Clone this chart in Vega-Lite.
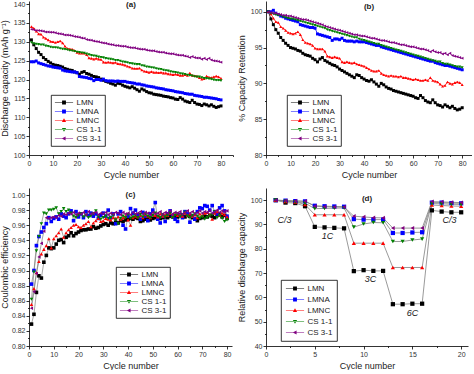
{
"$schema":"https://vega.github.io/schema/vega-lite/v6.json",
"padding":{"left":0,"top":0,"right":0,"bottom":0},
"config":{
"font":"Liberation Sans",
"view":{"stroke":null},
"axis":{"grid":false,"domainColor":"#000","domainWidth":0.8,"tickColor":"#000","tickWidth":0.8,"tickSize":3,"labelFontSize":7,"labelColor":"#333","labelPadding":1,"labelOverlap":false,"titleFontSize":9,"titleFontWeight":"normal","titleColor":"#222","labelFont":"Liberation Sans","titleFont":"Liberation Sans"},
"axisY":{"minExtent":17,"maxExtent":17,"titlePadding":3},
"axisX":{"titlePadding":4,"labelFlush":false},
"legend":{"orient":"none","strokeColor":"#000","strokeWidth":0.8,"fillColor":"#fff","padding":3,"symbolSize":49,"symbolOffset":5.5,"labelOffset":8,"rowPadding":0,"labelFontSize":8,"labelColor":"#222","labelFont":"Liberation Sans"},
"title":{"fontSize":8,"fontWeight":"bold","anchor":"middle","frame":"group","color":"#222","font":"Liberation Sans"}
},
"datasets":{
"a":[
{"x":1,"LMN":130.5,"LMNA":124.7,"LMNC":134.0,"CS 1-1":129.8,"CS 3-1":133.3},
{"x":2,"LMN":129.2,"LMNA":124.7,"LMNC":133.6,"CS 1-1":129.5,"CS 3-1":133.2},
{"x":3,"LMN":128.2,"LMNA":124.9,"LMNC":132.8,"CS 1-1":129.4,"CS 3-1":133.0},
{"x":4,"LMN":127.2,"LMNA":124.4,"LMNC":132.1,"CS 1-1":129.3,"CS 3-1":133.0},
{"x":5,"LMN":126.6,"LMNA":124.2,"LMNC":132.0,"CS 1-1":129.2,"CS 3-1":132.9},
{"x":6,"LMN":125.8,"LMNA":124.0,"LMNC":131.2,"CS 1-1":129.2,"CS 3-1":132.8},
{"x":7,"LMN":125.3,"LMNA":123.8,"LMNC":130.9,"CS 1-1":128.9,"CS 3-1":132.6},
{"x":8,"LMN":124.8,"LMNA":123.6,"LMNC":130.5,"CS 1-1":128.8,"CS 3-1":132.6},
{"x":9,"LMN":124.4,"LMNA":123.5,"LMNC":130.1,"CS 1-1":128.6,"CS 3-1":132.5},
{"x":10,"LMN":124.0,"LMNA":123.3,"LMNC":130.0,"CS 1-1":128.5,"CS 3-1":132.5},
{"x":11,"LMN":123.8,"LMNA":123.2,"LMNC":129.8,"CS 1-1":128.5,"CS 3-1":132.4},
{"x":12,"LMN":123.7,"LMNA":123.1,"LMNC":130.0,"CS 1-1":128.4,"CS 3-1":132.2},
{"x":13,"LMN":123.5,"LMNA":123.0,"LMNC":130.2,"CS 1-1":128.2,"CS 3-1":132.1},
{"x":14,"LMN":123.3,"LMNA":122.5,"LMNC":129.7,"CS 1-1":128.1,"CS 3-1":132.0},
{"x":15,"LMN":122.9,"LMNA":122.3,"LMNC":128.8,"CS 1-1":128.0,"CS 3-1":131.8},
{"x":16,"LMN":122.7,"LMNA":122.2,"LMNC":128.2,"CS 1-1":127.9,"CS 3-1":131.8},
{"x":17,"LMN":122.5,"LMNA":122.1,"LMNC":128.1,"CS 1-1":127.7,"CS 3-1":131.7},
{"x":18,"LMN":122.4,"LMNA":122.0,"LMNC":128.0,"CS 1-1":127.6,"CS 3-1":131.6},
{"x":19,"LMN":122.0,"LMNA":122.0,"LMNC":127.7,"CS 1-1":127.5,"CS 3-1":131.4},
{"x":20,"LMN":121.8,"LMNA":121.8,"LMNC":127.2,"CS 1-1":127.3,"CS 3-1":131.3},
{"x":21,"LMN":121.4,"LMNA":120.8,"LMNC":127.0,"CS 1-1":127.2,"CS 3-1":131.2},
{"x":22,"LMN":121.9,"LMNA":120.7,"LMNC":127.0,"CS 1-1":127.1,"CS 3-1":131.0},
{"x":23,"LMN":122.1,"LMNA":120.6,"LMNC":127.0,"CS 1-1":127.0,"CS 3-1":130.9},
{"x":24,"LMN":121.6,"LMNA":120.5,"LMNC":126.6,"CS 1-1":126.8,"CS 3-1":130.6},
{"x":25,"LMN":121.4,"LMNA":120.3,"LMNC":125.7,"CS 1-1":126.6,"CS 3-1":130.5},
{"x":26,"LMN":121.1,"LMNA":120.2,"LMNC":125.6,"CS 1-1":126.4,"CS 3-1":130.4},
{"x":27,"LMN":120.8,"LMNA":119.7,"LMNC":125.4,"CS 1-1":126.3,"CS 3-1":130.2},
{"x":28,"LMN":120.7,"LMNA":120.0,"LMNC":125.6,"CS 1-1":126.2,"CS 3-1":130.1},
{"x":29,"LMN":120.5,"LMNA":120.0,"LMNC":125.4,"CS 1-1":126.0,"CS 3-1":130.0},
{"x":30,"LMN":120.1,"LMNA":119.8,"LMNC":125.3,"CS 1-1":125.9,"CS 3-1":129.8},
{"x":31,"LMN":119.8,"LMNA":120.1,"LMNC":124.6,"CS 1-1":125.8,"CS 3-1":129.7},
{"x":32,"LMN":119.5,"LMNA":119.7,"LMNC":124.5,"CS 1-1":125.6,"CS 3-1":129.6},
{"x":33,"LMN":119.3,"LMNA":119.6,"LMNC":124.6,"CS 1-1":125.5,"CS 3-1":129.4},
{"x":34,"LMN":119.0,"LMNA":119.6,"LMNC":124.5,"CS 1-1":125.4,"CS 3-1":129.3},
{"x":35,"LMN":118.8,"LMNA":119.6,"LMNC":124.4,"CS 1-1":125.3,"CS 3-1":129.2},
{"x":36,"LMN":118.5,"LMNA":119.5,"LMNC":124.5,"CS 1-1":125.1,"CS 3-1":129.0},
{"x":37,"LMN":119.0,"LMNA":119.6,"LMNC":124.2,"CS 1-1":125.1,"CS 3-1":129.0},
{"x":38,"LMN":118.9,"LMNA":119.5,"LMNC":124.1,"CS 1-1":124.9,"CS 3-1":128.9},
{"x":39,"LMN":118.5,"LMNA":119.5,"LMNC":124.0,"CS 1-1":124.7,"CS 3-1":128.8},
{"x":40,"LMN":118.2,"LMNA":119.5,"LMNC":123.8,"CS 1-1":124.6,"CS 3-1":128.8},
{"x":41,"LMN":118.0,"LMNA":119.3,"LMNC":123.5,"CS 1-1":124.5,"CS 3-1":128.6},
{"x":42,"LMN":117.8,"LMNA":119.2,"LMNC":123.3,"CS 1-1":124.3,"CS 3-1":128.5},
{"x":43,"LMN":118.1,"LMNA":119.1,"LMNC":123.0,"CS 1-1":124.2,"CS 3-1":128.4},
{"x":44,"LMN":117.7,"LMNA":119.0,"LMNC":122.9,"CS 1-1":124.1,"CS 3-1":128.4},
{"x":45,"LMN":117.3,"LMNA":118.8,"LMNC":122.9,"CS 1-1":124.0,"CS 3-1":128.2},
{"x":46,"LMN":116.9,"LMNA":118.8,"LMNC":123.0,"CS 1-1":124.0,"CS 3-1":128.1},
{"x":47,"LMN":117.5,"LMNA":118.6,"LMNC":122.5,"CS 1-1":123.7,"CS 3-1":128.0},
{"x":48,"LMN":117.2,"LMNA":118.5,"LMNC":122.2,"CS 1-1":123.6,"CS 3-1":128.0},
{"x":49,"LMN":116.8,"LMNA":118.3,"LMNC":122.1,"CS 1-1":123.4,"CS 3-1":127.8},
{"x":50,"LMN":116.5,"LMNA":118.2,"LMNC":121.9,"CS 1-1":123.3,"CS 3-1":127.7},
{"x":51,"LMN":116.4,"LMNA":118.1,"LMNC":122.1,"CS 1-1":123.2,"CS 3-1":127.6},
{"x":52,"LMN":116.1,"LMNA":118.0,"LMNC":121.9,"CS 1-1":123.1,"CS 3-1":127.6},
{"x":53,"LMN":116.0,"LMNA":117.8,"LMNC":121.9,"CS 1-1":122.9,"CS 3-1":127.4},
{"x":54,"LMN":115.9,"LMNA":117.7,"LMNC":121.8,"CS 1-1":122.8,"CS 3-1":127.3},
{"x":55,"LMN":115.8,"LMNA":117.6,"LMNC":121.9,"CS 1-1":122.7,"CS 3-1":127.2},
{"x":56,"LMN":115.6,"LMNA":117.5,"LMNC":121.7,"CS 1-1":122.5,"CS 3-1":127.2},
{"x":57,"LMN":115.5,"LMNA":117.3,"LMNC":121.7,"CS 1-1":122.4,"CS 3-1":127.0},
{"x":58,"LMN":115.4,"LMNA":117.2,"LMNC":121.5,"CS 1-1":122.3,"CS 3-1":126.9},
{"x":59,"LMN":115.2,"LMNA":117.1,"LMNC":121.4,"CS 1-1":122.1,"CS 3-1":126.8},
{"x":60,"LMN":115.1,"LMNA":117.0,"LMNC":121.3,"CS 1-1":122.0,"CS 3-1":126.8},
{"x":61,"LMN":114.8,"LMNA":116.8,"LMNC":121.4,"CS 1-1":121.9,"CS 3-1":126.6},
{"x":62,"LMN":114.7,"LMNA":116.7,"LMNC":121.3,"CS 1-1":121.8,"CS 3-1":126.5},
{"x":63,"LMN":115.2,"LMNA":116.6,"LMNC":121.1,"CS 1-1":121.6,"CS 3-1":126.4},
{"x":64,"LMN":114.8,"LMNA":116.5,"LMNC":121.1,"CS 1-1":121.5,"CS 3-1":126.4},
{"x":65,"LMN":114.3,"LMNA":116.3,"LMNC":121.3,"CS 1-1":121.4,"CS 3-1":126.2},
{"x":66,"LMN":114.1,"LMNA":116.2,"LMNC":121.1,"CS 1-1":121.2,"CS 3-1":126.1},
{"x":67,"LMN":113.9,"LMNA":116.1,"LMNC":121.7,"CS 1-1":121.1,"CS 3-1":125.8},
{"x":68,"LMN":114.5,"LMNA":116.1,"LMNC":121.1,"CS 1-1":121.0,"CS 3-1":126.1},
{"x":69,"LMN":113.9,"LMNA":115.8,"LMNC":121.0,"CS 1-1":120.8,"CS 3-1":125.8},
{"x":70,"LMN":113.5,"LMNA":115.7,"LMNC":120.9,"CS 1-1":120.7,"CS 3-1":125.7},
{"x":71,"LMN":113.4,"LMNA":115.6,"LMNC":120.5,"CS 1-1":120.7,"CS 3-1":125.7},
{"x":72,"LMN":113.1,"LMNA":115.5,"LMNC":120.1,"CS 1-1":120.5,"CS 3-1":125.4},
{"x":73,"LMN":113.5,"LMNA":115.3,"LMNC":120.2,"CS 1-1":120.3,"CS 3-1":125.6},
{"x":74,"LMN":113.3,"LMNA":115.3,"LMNC":120.9,"CS 1-1":120.3,"CS 3-1":125.3},
{"x":75,"LMN":113.0,"LMNA":115.2,"LMNC":120.6,"CS 1-1":120.2,"CS 3-1":125.6},
{"x":76,"LMN":113.3,"LMNA":115.1,"LMNC":120.5,"CS 1-1":120.1,"CS 3-1":125.2},
{"x":77,"LMN":112.9,"LMNA":115.0,"LMNC":120.7,"CS 1-1":119.9,"CS 3-1":125.0},
{"x":78,"LMN":112.6,"LMNA":114.9,"LMNC":120.9,"CS 1-1":119.8,"CS 3-1":124.9},
{"x":79,"LMN":112.8,"LMNA":114.7,"LMNC":120.7,"CS 1-1":119.8,"CS 3-1":124.8},
{"x":80,"LMN":113.0,"LMNA":114.6,"LMNC":120.3,"CS 1-1":119.7,"CS 3-1":124.6}
],
"b":[
{"x":1,"LMN":100,"LMNA":100,"LMNC":100,"CS 1-1":100,"CS 3-1":100},
{"x":2,"LMN":99.0,"LMNA":100.0,"LMNC":99.7,"CS 1-1":99.8,"CS 3-1":99.9},
{"x":3,"LMN":98.2,"LMNA":100.2,"LMNC":99.1,"CS 1-1":99.7,"CS 3-1":99.8},
{"x":4,"LMN":97.5,"LMNA":99.8,"LMNC":98.6,"CS 1-1":99.6,"CS 3-1":99.8},
{"x":5,"LMN":97.0,"LMNA":99.6,"LMNC":98.5,"CS 1-1":99.5,"CS 3-1":99.7},
{"x":6,"LMN":96.4,"LMNA":99.4,"LMNC":97.9,"CS 1-1":99.5,"CS 3-1":99.6},
{"x":7,"LMN":96.0,"LMNA":99.3,"LMNC":97.7,"CS 1-1":99.3,"CS 3-1":99.5},
{"x":8,"LMN":95.6,"LMNA":99.1,"LMNC":97.4,"CS 1-1":99.2,"CS 3-1":99.5},
{"x":9,"LMN":95.3,"LMNA":99.0,"LMNC":97.1,"CS 1-1":99.1,"CS 3-1":99.4},
{"x":10,"LMN":95.0,"LMNA":98.9,"LMNC":97.0,"CS 1-1":99.0,"CS 3-1":99.4},
{"x":11,"LMN":94.9,"LMNA":98.8,"LMNC":96.9,"CS 1-1":99.0,"CS 3-1":99.3},
{"x":12,"LMN":94.8,"LMNA":98.7,"LMNC":97.0,"CS 1-1":98.9,"CS 3-1":99.2},
{"x":13,"LMN":94.6,"LMNA":98.6,"LMNC":97.2,"CS 1-1":98.8,"CS 3-1":99.1},
{"x":14,"LMN":94.5,"LMNA":98.2,"LMNC":96.8,"CS 1-1":98.7,"CS 3-1":99.0},
{"x":15,"LMN":94.2,"LMNA":98.1,"LMNC":96.1,"CS 1-1":98.6,"CS 3-1":98.9},
{"x":16,"LMN":94.0,"LMNA":98.0,"LMNC":95.7,"CS 1-1":98.5,"CS 3-1":98.9},
{"x":17,"LMN":93.9,"LMNA":97.9,"LMNC":95.6,"CS 1-1":98.4,"CS 3-1":98.8},
{"x":18,"LMN":93.8,"LMNA":97.8,"LMNC":95.5,"CS 1-1":98.3,"CS 3-1":98.7},
{"x":19,"LMN":93.5,"LMNA":97.8,"LMNC":95.3,"CS 1-1":98.2,"CS 3-1":98.6},
{"x":20,"LMN":93.3,"LMNA":97.7,"LMNC":94.9,"CS 1-1":98.1,"CS 3-1":98.5},
{"x":21,"LMN":93.0,"LMNA":96.9,"LMNC":94.8,"CS 1-1":98.0,"CS 3-1":98.4},
{"x":22,"LMN":93.4,"LMNA":96.8,"LMNC":94.8,"CS 1-1":97.9,"CS 3-1":98.3},
{"x":23,"LMN":93.6,"LMNA":96.7,"LMNC":94.8,"CS 1-1":97.8,"CS 3-1":98.2},
{"x":24,"LMN":93.2,"LMNA":96.6,"LMNC":94.5,"CS 1-1":97.7,"CS 3-1":98.0},
{"x":25,"LMN":93.0,"LMNA":96.5,"LMNC":93.8,"CS 1-1":97.5,"CS 3-1":97.9},
{"x":26,"LMN":92.8,"LMNA":96.4,"LMNC":93.7,"CS 1-1":97.4,"CS 3-1":97.8},
{"x":27,"LMN":92.6,"LMNA":96.0,"LMNC":93.6,"CS 1-1":97.3,"CS 3-1":97.7},
{"x":28,"LMN":92.5,"LMNA":96.2,"LMNC":93.7,"CS 1-1":97.2,"CS 3-1":97.6},
{"x":29,"LMN":92.3,"LMNA":96.2,"LMNC":93.6,"CS 1-1":97.1,"CS 3-1":97.5},
{"x":30,"LMN":92.0,"LMNA":96.1,"LMNC":93.5,"CS 1-1":97.0,"CS 3-1":97.4},
{"x":31,"LMN":91.8,"LMNA":96.3,"LMNC":93.0,"CS 1-1":96.9,"CS 3-1":97.3},
{"x":32,"LMN":91.6,"LMNA":96.0,"LMNC":92.9,"CS 1-1":96.8,"CS 3-1":97.2},
{"x":33,"LMN":91.4,"LMNA":95.9,"LMNC":93.0,"CS 1-1":96.7,"CS 3-1":97.1},
{"x":34,"LMN":91.2,"LMNA":95.9,"LMNC":92.9,"CS 1-1":96.6,"CS 3-1":97.0},
{"x":35,"LMN":91.0,"LMNA":95.9,"LMNC":92.8,"CS 1-1":96.5,"CS 3-1":96.9},
{"x":36,"LMN":90.8,"LMNA":95.8,"LMNC":92.9,"CS 1-1":96.4,"CS 3-1":96.8},
{"x":37,"LMN":91.2,"LMNA":95.9,"LMNC":92.7,"CS 1-1":96.4,"CS 3-1":96.8},
{"x":38,"LMN":91.1,"LMNA":95.8,"LMNC":92.6,"CS 1-1":96.2,"CS 3-1":96.7},
{"x":39,"LMN":90.8,"LMNA":95.8,"LMNC":92.5,"CS 1-1":96.1,"CS 3-1":96.6},
{"x":40,"LMN":90.6,"LMNA":95.8,"LMNC":92.4,"CS 1-1":96.0,"CS 3-1":96.6},
{"x":41,"LMN":90.4,"LMNA":95.7,"LMNC":92.2,"CS 1-1":95.9,"CS 3-1":96.5},
{"x":42,"LMN":90.3,"LMNA":95.6,"LMNC":92.0,"CS 1-1":95.8,"CS 3-1":96.4},
{"x":43,"LMN":90.5,"LMNA":95.5,"LMNC":91.8,"CS 1-1":95.7,"CS 3-1":96.3},
{"x":44,"LMN":90.2,"LMNA":95.4,"LMNC":91.7,"CS 1-1":95.6,"CS 3-1":96.3},
{"x":45,"LMN":89.9,"LMNA":95.3,"LMNC":91.7,"CS 1-1":95.5,"CS 3-1":96.2},
{"x":46,"LMN":89.6,"LMNA":95.3,"LMNC":91.8,"CS 1-1":95.5,"CS 3-1":96.1},
{"x":47,"LMN":90.0,"LMNA":95.1,"LMNC":91.4,"CS 1-1":95.3,"CS 3-1":96.0},
{"x":48,"LMN":89.8,"LMNA":95.0,"LMNC":91.2,"CS 1-1":95.2,"CS 3-1":96.0},
{"x":49,"LMN":89.5,"LMNA":94.9,"LMNC":91.1,"CS 1-1":95.1,"CS 3-1":95.9},
{"x":50,"LMN":89.3,"LMNA":94.8,"LMNC":91.0,"CS 1-1":95.0,"CS 3-1":95.8},
{"x":51,"LMN":89.2,"LMNA":94.7,"LMNC":91.1,"CS 1-1":94.9,"CS 3-1":95.7},
{"x":52,"LMN":89.0,"LMNA":94.6,"LMNC":91.0,"CS 1-1":94.8,"CS 3-1":95.7},
{"x":53,"LMN":88.9,"LMNA":94.5,"LMNC":91.0,"CS 1-1":94.7,"CS 3-1":95.6},
{"x":54,"LMN":88.8,"LMNA":94.4,"LMNC":90.9,"CS 1-1":94.6,"CS 3-1":95.5},
{"x":55,"LMN":88.7,"LMNA":94.3,"LMNC":91.0,"CS 1-1":94.5,"CS 3-1":95.4},
{"x":56,"LMN":88.6,"LMNA":94.2,"LMNC":90.8,"CS 1-1":94.4,"CS 3-1":95.4},
{"x":57,"LMN":88.5,"LMNA":94.1,"LMNC":90.8,"CS 1-1":94.3,"CS 3-1":95.3},
{"x":58,"LMN":88.4,"LMNA":94.0,"LMNC":90.7,"CS 1-1":94.2,"CS 3-1":95.2},
{"x":59,"LMN":88.3,"LMNA":93.9,"LMNC":90.6,"CS 1-1":94.1,"CS 3-1":95.1},
{"x":60,"LMN":88.2,"LMNA":93.8,"LMNC":90.5,"CS 1-1":94.0,"CS 3-1":95.1},
{"x":61,"LMN":88.0,"LMNA":93.7,"LMNC":90.6,"CS 1-1":93.9,"CS 3-1":95.0},
{"x":62,"LMN":87.9,"LMNA":93.6,"LMNC":90.5,"CS 1-1":93.8,"CS 3-1":94.9},
{"x":63,"LMN":88.3,"LMNA":93.5,"LMNC":90.4,"CS 1-1":93.7,"CS 3-1":94.8},
{"x":64,"LMN":88.0,"LMNA":93.4,"LMNC":90.4,"CS 1-1":93.6,"CS 3-1":94.8},
{"x":65,"LMN":87.6,"LMNA":93.3,"LMNC":90.5,"CS 1-1":93.5,"CS 3-1":94.7},
{"x":66,"LMN":87.4,"LMNA":93.2,"LMNC":90.4,"CS 1-1":93.4,"CS 3-1":94.6},
{"x":67,"LMN":87.3,"LMNA":93.1,"LMNC":90.8,"CS 1-1":93.3,"CS 3-1":94.4},
{"x":68,"LMN":87.7,"LMNA":93.1,"LMNC":90.4,"CS 1-1":93.2,"CS 3-1":94.6},
{"x":69,"LMN":87.3,"LMNA":92.9,"LMNC":90.3,"CS 1-1":93.1,"CS 3-1":94.4},
{"x":70,"LMN":87.0,"LMNA":92.8,"LMNC":90.2,"CS 1-1":93.0,"CS 3-1":94.3},
{"x":71,"LMN":86.9,"LMNA":92.7,"LMNC":89.9,"CS 1-1":93.0,"CS 3-1":94.3},
{"x":72,"LMN":86.7,"LMNA":92.6,"LMNC":89.6,"CS 1-1":92.8,"CS 3-1":94.1},
{"x":73,"LMN":87.0,"LMNA":92.5,"LMNC":89.7,"CS 1-1":92.7,"CS 3-1":94.2},
{"x":74,"LMN":86.8,"LMNA":92.5,"LMNC":90.2,"CS 1-1":92.7,"CS 3-1":94.0},
{"x":75,"LMN":86.6,"LMNA":92.4,"LMNC":90.0,"CS 1-1":92.6,"CS 3-1":94.2},
{"x":76,"LMN":86.8,"LMNA":92.3,"LMNC":89.9,"CS 1-1":92.5,"CS 3-1":93.9},
{"x":77,"LMN":86.5,"LMNA":92.2,"LMNC":90.1,"CS 1-1":92.4,"CS 3-1":93.8},
{"x":78,"LMN":86.3,"LMNA":92.1,"LMNC":90.2,"CS 1-1":92.3,"CS 3-1":93.7},
{"x":79,"LMN":86.4,"LMNA":92.0,"LMNC":90.1,"CS 1-1":92.3,"CS 3-1":93.6},
{"x":80,"LMN":86.6,"LMNA":91.9,"LMNC":89.8,"CS 1-1":92.2,"CS 3-1":93.5}
],
"c":[
{"x":1,"LMN":0.829,"LMNA":0.882,"LMNC":0.855,"CS 1-1":0.862,"CS 3-1":0.850},
{"x":2,"LMN":0.842,"LMNA":0.900,"LMNC":0.876,"CS 1-1":0.898,"CS 3-1":0.872},
{"x":3,"LMN":0.871,"LMNA":0.933,"LMNC":0.897,"CS 1-1":0.926,"CS 3-1":0.896},
{"x":4,"LMN":0.893,"LMNA":0.945,"LMNC":0.912,"CS 1-1":0.945,"CS 3-1":0.918},
{"x":5,"LMN":0.890,"LMNA":0.951,"LMNC":0.922,"CS 1-1":0.962,"CS 3-1":0.936},
{"x":6,"LMN":0.911,"LMNA":0.957,"LMNC":0.928,"CS 1-1":0.976,"CS 3-1":0.952},
{"x":7,"LMN":0.920,"LMNA":0.962,"LMNC":0.933,"CS 1-1":0.975,"CS 3-1":0.970},
{"x":8,"LMN":0.930,"LMNA":0.970,"LMNC":0.942,"CS 1-1":0.980,"CS 3-1":0.969},
{"x":9,"LMN":0.929,"LMNA":0.965,"LMNC":0.930,"CS 1-1":0.980,"CS 3-1":0.970},
{"x":10,"LMN":0.930,"LMNA":0.969,"LMNC":0.942,"CS 1-1":0.981,"CS 3-1":0.971},
{"x":11,"LMN":0.935,"LMNA":0.971,"LMNC":0.946,"CS 1-1":0.983,"CS 3-1":0.970},
{"x":12,"LMN":0.940,"LMNA":0.968,"LMNC":0.950,"CS 1-1":0.975,"CS 3-1":0.973},
{"x":13,"LMN":0.941,"LMNA":0.975,"LMNC":0.955,"CS 1-1":0.978,"CS 3-1":0.972},
{"x":14,"LMN":0.937,"LMNA":0.972,"LMNC":0.944,"CS 1-1":0.982,"CS 3-1":0.975},
{"x":15,"LMN":0.944,"LMNA":0.970,"LMNC":0.950,"CS 1-1":0.978,"CS 3-1":0.974},
{"x":16,"LMN":0.946,"LMNA":0.975,"LMNC":0.954,"CS 1-1":0.980,"CS 3-1":0.976},
{"x":17,"LMN":0.950,"LMNA":0.979,"LMNC":0.957,"CS 1-1":0.976,"CS 3-1":0.975},
{"x":18,"LMN":0.946,"LMNA":0.966,"LMNC":0.960,"CS 1-1":0.972,"CS 3-1":0.977},
{"x":19,"LMN":0.949,"LMNA":0.978,"LMNC":0.961,"CS 1-1":0.970,"CS 3-1":0.974},
{"x":20,"LMN":0.951,"LMNA":0.971,"LMNC":0.958,"CS 1-1":0.973,"CS 3-1":0.976},
{"x":21,"LMN":0.953,"LMNA":0.975,"LMNC":0.957,"CS 1-1":0.975,"CS 3-1":0.975},
{"x":22,"LMN":0.954,"LMNA":0.970,"LMNC":0.960,"CS 1-1":0.971,"CS 3-1":0.977},
{"x":23,"LMN":0.954,"LMNA":0.978,"LMNC":0.962,"CS 1-1":0.973,"CS 3-1":0.974},
{"x":24,"LMN":0.955,"LMNA":0.973,"LMNC":0.965,"CS 1-1":0.970,"CS 3-1":0.978},
{"x":25,"LMN":0.955,"LMNA":0.976,"LMNC":0.958,"CS 1-1":0.972,"CS 3-1":0.975},
{"x":26,"LMN":0.958,"LMNA":0.972,"LMNC":0.963,"CS 1-1":0.975,"CS 3-1":0.976},
{"x":27,"LMN":0.956,"LMNA":0.975,"LMNC":0.966,"CS 1-1":0.979,"CS 3-1":0.977},
{"x":28,"LMN":0.957,"LMNA":0.969,"LMNC":0.969,"CS 1-1":0.971,"CS 3-1":0.974},
{"x":29,"LMN":0.959,"LMNA":0.973,"LMNC":0.965,"CS 1-1":0.968,"CS 3-1":0.976},
{"x":30,"LMN":0.961,"LMNA":0.976,"LMNC":0.966,"CS 1-1":0.970,"CS 3-1":0.975},
{"x":31,"LMN":0.962,"LMNA":0.972,"LMNC":0.969,"CS 1-1":0.972,"CS 3-1":0.977},
{"x":32,"LMN":0.960,"LMNA":0.980,"LMNC":0.968,"CS 1-1":0.969,"CS 3-1":0.974},
{"x":33,"LMN":0.963,"LMNA":0.970,"LMNC":0.967,"CS 1-1":0.970,"CS 3-1":0.976},
{"x":34,"LMN":0.962,"LMNA":0.975,"LMNC":0.970,"CS 1-1":0.973,"CS 3-1":0.975},
{"x":35,"LMN":0.964,"LMNA":0.962,"LMNC":0.969,"CS 1-1":0.967,"CS 3-1":0.977},
{"x":36,"LMN":0.963,"LMNA":0.975,"LMNC":0.971,"CS 1-1":0.962,"CS 3-1":0.976},
{"x":37,"LMN":0.966,"LMNA":0.978,"LMNC":0.968,"CS 1-1":0.969,"CS 3-1":0.974},
{"x":38,"LMN":0.965,"LMNA":0.960,"LMNC":0.970,"CS 1-1":0.972,"CS 3-1":0.977},
{"x":39,"LMN":0.967,"LMNA":0.955,"LMNC":0.972,"CS 1-1":0.970,"CS 3-1":0.975},
{"x":40,"LMN":0.968,"LMNA":0.972,"LMNC":0.967,"CS 1-1":0.974,"CS 3-1":0.976},
{"x":41,"LMN":0.969,"LMNA":0.982,"LMNC":0.960,"CS 1-1":0.969,"CS 3-1":0.974},
{"x":42,"LMN":0.968,"LMNA":0.976,"LMNC":0.970,"CS 1-1":0.971,"CS 3-1":0.977},
{"x":43,"LMN":0.970,"LMNA":0.980,"LMNC":0.972,"CS 1-1":0.973,"CS 3-1":0.975},
{"x":44,"LMN":0.969,"LMNA":0.974,"LMNC":0.971,"CS 1-1":0.970,"CS 3-1":0.976},
{"x":45,"LMN":0.965,"LMNA":0.968,"LMNC":0.973,"CS 1-1":0.974,"CS 3-1":0.978},
{"x":46,"LMN":0.966,"LMNA":0.977,"LMNC":0.970,"CS 1-1":0.971,"CS 3-1":0.975},
{"x":47,"LMN":0.968,"LMNA":0.972,"LMNC":0.974,"CS 1-1":0.975,"CS 3-1":0.977},
{"x":48,"LMN":0.970,"LMNA":0.966,"LMNC":0.972,"CS 1-1":0.972,"CS 3-1":0.976},
{"x":49,"LMN":0.967,"LMNA":0.975,"LMNC":0.970,"CS 1-1":0.970,"CS 3-1":0.974},
{"x":50,"LMN":0.969,"LMNA":0.980,"LMNC":0.974,"CS 1-1":0.973,"CS 3-1":0.977},
{"x":51,"LMN":0.970,"LMNA":0.990,"LMNC":0.973,"CS 1-1":0.976,"CS 3-1":0.975},
{"x":52,"LMN":0.971,"LMNA":0.968,"LMNC":0.971,"CS 1-1":0.972,"CS 3-1":0.976},
{"x":53,"LMN":0.969,"LMNA":0.963,"LMNC":0.975,"CS 1-1":0.970,"CS 3-1":0.978},
{"x":54,"LMN":0.970,"LMNA":0.972,"LMNC":0.972,"CS 1-1":0.974,"CS 3-1":0.975},
{"x":55,"LMN":0.971,"LMNA":0.965,"LMNC":0.974,"CS 1-1":0.971,"CS 3-1":0.977},
{"x":56,"LMN":0.970,"LMNA":0.975,"LMNC":0.973,"CS 1-1":0.973,"CS 3-1":0.976},
{"x":57,"LMN":0.972,"LMNA":0.979,"LMNC":0.976,"CS 1-1":0.976,"CS 3-1":0.979},
{"x":58,"LMN":0.971,"LMNA":0.972,"LMNC":0.972,"CS 1-1":0.970,"CS 3-1":0.975},
{"x":59,"LMN":0.972,"LMNA":0.968,"LMNC":0.975,"CS 1-1":0.973,"CS 3-1":0.977},
{"x":60,"LMN":0.971,"LMNA":0.965,"LMNC":0.973,"CS 1-1":0.975,"CS 3-1":0.976},
{"x":61,"LMN":0.973,"LMNA":0.974,"LMNC":0.974,"CS 1-1":0.971,"CS 3-1":0.978},
{"x":62,"LMN":0.972,"LMNA":0.970,"LMNC":0.972,"CS 1-1":0.974,"CS 3-1":0.975},
{"x":63,"LMN":0.971,"LMNA":0.978,"LMNC":0.976,"CS 1-1":0.977,"CS 3-1":0.977},
{"x":64,"LMN":0.973,"LMNA":0.975,"LMNC":0.973,"CS 1-1":0.972,"CS 3-1":0.979},
{"x":65,"LMN":0.972,"LMNA":0.964,"LMNC":0.975,"CS 1-1":0.970,"CS 3-1":0.976},
{"x":66,"LMN":0.970,"LMNA":0.972,"LMNC":0.972,"CS 1-1":0.973,"CS 3-1":0.978},
{"x":67,"LMN":0.968,"LMNA":0.968,"LMNC":0.974,"CS 1-1":0.975,"CS 3-1":0.975},
{"x":68,"LMN":0.966,"LMNA":0.978,"LMNC":0.970,"CS 1-1":0.972,"CS 3-1":0.977},
{"x":69,"LMN":0.969,"LMNA":0.983,"LMNC":0.975,"CS 1-1":0.969,"CS 3-1":0.979},
{"x":70,"LMN":0.970,"LMNA":0.982,"LMNC":0.973,"CS 1-1":0.971,"CS 3-1":0.976},
{"x":71,"LMN":0.972,"LMNA":0.986,"LMNC":0.976,"CS 1-1":0.968,"CS 3-1":0.978},
{"x":72,"LMN":0.971,"LMNA":0.985,"LMNC":0.977,"CS 1-1":0.970,"CS 3-1":0.977},
{"x":73,"LMN":0.973,"LMNA":0.980,"LMNC":0.974,"CS 1-1":0.972,"CS 3-1":0.979},
{"x":74,"LMN":0.972,"LMNA":0.986,"LMNC":0.968,"CS 1-1":0.974,"CS 3-1":0.976},
{"x":75,"LMN":0.970,"LMNA":0.978,"LMNC":0.976,"CS 1-1":0.978,"CS 3-1":0.978},
{"x":76,"LMN":0.973,"LMNA":0.975,"LMNC":0.978,"CS 1-1":0.970,"CS 3-1":0.980},
{"x":77,"LMN":0.975,"LMNA":0.983,"LMNC":0.973,"CS 1-1":0.973,"CS 3-1":0.977},
{"x":78,"LMN":0.971,"LMNA":0.986,"LMNC":0.976,"CS 1-1":0.969,"CS 3-1":0.979},
{"x":79,"LMN":0.973,"LMNA":0.979,"LMNC":0.974,"CS 1-1":0.965,"CS 3-1":0.978},
{"x":80,"LMN":0.969,"LMNA":0.972,"LMNC":0.971,"CS 1-1":0.967,"CS 3-1":0.979}
],
"d":[
{"x":1,"LMN":100,"LMNA":100,"LMNC":100,"CS 1-1":100,"CS 3-1":100},
{"x":2,"LMN":99.0,"LMNA":99.8,"LMNC":99.5,"CS 1-1":99.5,"CS 3-1":99.8},
{"x":3,"LMN":98.8,"LMNA":99.6,"LMNC":99.3,"CS 1-1":99.3,"CS 3-1":99.7},
{"x":4,"LMN":97.5,"LMNA":99.5,"LMNC":98.2,"CS 1-1":98.8,"CS 3-1":99.6},
{"x":5,"LMN":89.0,"LMNA":97.7,"LMNC":94.0,"CS 1-1":96.5,"CS 3-1":97.5},
{"x":6,"LMN":88.8,"LMNA":97.5,"LMNC":94.0,"CS 1-1":96.6,"CS 3-1":97.3},
{"x":7,"LMN":88.6,"LMNA":97.4,"LMNC":94.0,"CS 1-1":96.7,"CS 3-1":97.2},
{"x":8,"LMN":88.4,"LMNA":97.3,"LMNC":94.0,"CS 1-1":96.8,"CS 3-1":97.2},
{"x":9,"LMN":70.8,"LMNA":92.2,"LMNC":82.3,"CS 1-1":88.9,"CS 3-1":93.4},
{"x":10,"LMN":71.2,"LMNA":92.0,"LMNC":82.3,"CS 1-1":90.2,"CS 3-1":93.1},
{"x":11,"LMN":70.9,"LMNA":92.0,"LMNC":82.3,"CS 1-1":90.8,"CS 3-1":92.8},
{"x":12,"LMN":70.9,"LMNA":92.0,"LMNC":82.3,"CS 1-1":90.7,"CS 3-1":92.7},
{"x":13,"LMN":57.2,"LMNA":86.5,"LMNC":72.3,"CS 1-1":83.0,"CS 3-1":88.5},
{"x":14,"LMN":57.2,"LMNA":86.5,"LMNC":72.3,"CS 1-1":83.0,"CS 3-1":88.5},
{"x":15,"LMN":57.4,"LMNA":86.7,"LMNC":72.3,"CS 1-1":83.6,"CS 3-1":88.5},
{"x":16,"LMN":57.4,"LMNA":86.8,"LMNC":72.3,"CS 1-1":84.0,"CS 3-1":88.5},
{"x":17,"LMN":95.8,"LMNA":99.0,"LMNC":98.0,"CS 1-1":98.6,"CS 3-1":99.4},
{"x":18,"LMN":95.3,"LMNA":99.0,"LMNC":97.8,"CS 1-1":98.5,"CS 3-1":99.3},
{"x":19,"LMN":95.0,"LMNA":98.8,"LMNC":97.6,"CS 1-1":98.3,"CS 3-1":99.1},
{"x":20,"LMN":95.0,"LMNA":98.7,"LMNC":97.5,"CS 1-1":98.2,"CS 3-1":99.0}
],
"dlab":[
{"x":1.9,"v":91.9,"t":"C/3"},
{"x":6.3,"v":85.1,"t":"1C"},
{"x":10.7,"v":67.5,"t":"3C"},
{"x":15.0,"v":53.7,"t":"6C"},
{"x":18.8,"v":91.9,"t":"C/3"}
]
},
"columns":2,
"spacing":{"row":9,"column":3},
"resolve":{"scale":{"color":"independent","shape":"independent"},"legend":{"color":"independent","shape":"independent"}},
"concat":[
{
"width":204,"height":154,
"title":{"text":"(a)","offset":-9},
"encoding":{
"x":{"field":"x","type":"quantitative","scale":{"domain":[0,85],"nice":false},"axis":{"values":[0,5,10,15,20,25,30,35,40,45,50,55,60,65,70,75,80,85],"labelExpr":"datum.value % 10 == 0 ? datum.label : ''","tickSize":{"condition":{"test":"datum.value % 10 != 0","value":1.5},"value":3},"title":"Cycle number"}},
"y":{"field":"v","type":"quantitative","scale":{"domain":[100,140.8],"nice":false,"zero":false},"axis":{"values":[100,102.5,105,107.5,110,112.5,115,117.5,120,122.5,125,127.5,130,132.5,135,137.5,140],"labelExpr":"datum.value % 5 == 0 ? datum.label : ''","tickSize":{"condition":{"test":"datum.value % 5 != 0","value":1.5},"value":3},"title":"Discharge capacity (mAh g⁻¹)"}}
},
"layer":[
{"data":{"name":"a"},"transform":[{"fold":["LMN","LMNA","LMNC","CS 1-1","CS 3-1"],"as":["s","v"]},{"filter":{"field":"s","equal":"LMN"}}],"mark":{"type":"line","strokeWidth":0.8,"color":"#000000","point":{"filled":true,"size":9,"opacity":1,"shape":"square","color":"#000000"}}},
{"data":{"name":"a"},"transform":[{"fold":["LMN","LMNA","LMNC","CS 1-1","CS 3-1"],"as":["s","v"]},{"filter":{"field":"s","equal":"LMNA"}}],"mark":{"type":"line","strokeWidth":0.8,"color":"#0000ff","point":{"filled":true,"size":9,"opacity":1,"shape":"square","color":"#0000ff"}}},
{"data":{"name":"a"},"transform":[{"fold":["LMN","LMNA","LMNC","CS 1-1","CS 3-1"],"as":["s","v"]},{"filter":{"field":"s","equal":"LMNC"}}],"mark":{"type":"line","strokeWidth":0.8,"color":"#ff0000","point":{"filled":true,"size":9,"opacity":1,"shape":"triangle-up","color":"#ff0000"}}},
{"data":{"name":"a"},"transform":[{"fold":["LMN","LMNA","LMNC","CS 1-1","CS 3-1"],"as":["s","v"]},{"filter":{"field":"s","equal":"CS 1-1"}}],"mark":{"type":"line","strokeWidth":0.8,"color":"#008000","point":{"filled":true,"size":9,"opacity":1,"shape":"triangle-down","color":"#008000"}}},
{"data":{"name":"a"},"transform":[{"fold":["LMN","LMNA","LMNC","CS 1-1","CS 3-1"],"as":["s","v"]},{"filter":{"field":"s","equal":"CS 3-1"}}],"mark":{"type":"line","strokeWidth":0.8,"color":"#800080","point":{"filled":true,"size":9,"opacity":1,"shape":"triangle-left","color":"#800080"}}},
{"data":{"name":"a"},"transform":[{"fold":["LMN","LMNA","LMNC","CS 1-1","CS 3-1"],"as":["s","v"]},{"filter":{"field":"x","lt":0}}],"mark":{"type":"point","filled":true,"size":49,"opacity":1},
"encoding":{
"color":{"field":"s","type":"nominal","scale":{"domain":["LMN","LMNA","LMNC","CS 1-1","CS 3-1"],"range":["#000000","#0000ff","#ff0000","#008000","#800080"]},"legend":{"title":null,"legendX":22,"legendY":94}},
"shape":{"field":"s","type":"nominal","scale":{"domain":["LMN","LMNA","LMNC","CS 1-1","CS 3-1"],"range":["M-2.6,-0.1H2.6V0.1H-2.6ZM-0.55,-0.55H0.55V0.55H-0.55Z","M-2.6,-0.1H2.6V0.1H-2.6ZM-0.55,-0.55H0.55V0.55H-0.55Z","M-2.6,-0.1H2.6V0.1H-2.6ZM0,-0.65L0.6,0.45H-0.6Z","M-2.6,-0.1H2.6V0.1H-2.6ZM0,0.65L0.6,-0.45H-0.6Z","M-2.6,-0.1H2.6V0.1H-2.6ZM-0.65,0L0.45,-0.6V0.6Z"]},"legend":{"title":null,"legendX":22,"legendY":94}}
}}
]
},
{
"width":206,"height":154,
"title":{"text":"(b)","offset":-10},
"encoding":{
"x":{"field":"x","type":"quantitative","scale":{"domain":[0,84],"nice":false},"axis":{"values":[0,5,10,15,20,25,30,35,40,45,50,55,60,65,70,75,80],"labelExpr":"datum.value % 10 == 0 ? datum.label : ''","tickSize":{"condition":{"test":"datum.value % 10 != 0","value":1.5},"value":3},"title":"Cycle number"}},
"y":{"field":"v","type":"quantitative","scale":{"domain":[80,101.5],"nice":false,"zero":false},"axis":{"values":[80,82.5,85,87.5,90,92.5,95,97.5,100],"labelExpr":"datum.value % 5 == 0 ? datum.label : ''","tickSize":{"condition":{"test":"datum.value % 5 != 0","value":1.5},"value":3},"title":"% Capacity Retention"}}
},
"layer":[
{"data":{"name":"b"},"transform":[{"fold":["LMN","LMNA","LMNC","CS 1-1","CS 3-1"],"as":["s","v"]},{"filter":{"field":"s","equal":"LMN"}}],"mark":{"type":"line","strokeWidth":0.8,"color":"#000000","point":{"filled":true,"size":9,"opacity":1,"shape":"square","color":"#000000"}}},
{"data":{"name":"b"},"transform":[{"fold":["LMN","LMNA","LMNC","CS 1-1","CS 3-1"],"as":["s","v"]},{"filter":{"field":"s","equal":"LMNA"}}],"mark":{"type":"line","strokeWidth":0.8,"color":"#0000ff","point":{"filled":true,"size":9,"opacity":1,"shape":"square","color":"#0000ff"}}},
{"data":{"name":"b"},"transform":[{"fold":["LMN","LMNA","LMNC","CS 1-1","CS 3-1"],"as":["s","v"]},{"filter":{"field":"s","equal":"LMNC"}}],"mark":{"type":"line","strokeWidth":0.8,"color":"#ff0000","point":{"filled":true,"size":9,"opacity":1,"shape":"triangle-up","color":"#ff0000"}}},
{"data":{"name":"b"},"transform":[{"fold":["LMN","LMNA","LMNC","CS 1-1","CS 3-1"],"as":["s","v"]},{"filter":{"field":"s","equal":"CS 1-1"}}],"mark":{"type":"line","strokeWidth":0.8,"color":"#008000","point":{"filled":true,"size":9,"opacity":1,"shape":"triangle-down","color":"#008000"}}},
{"data":{"name":"b"},"transform":[{"fold":["LMN","LMNA","LMNC","CS 1-1","CS 3-1"],"as":["s","v"]},{"filter":{"field":"s","equal":"CS 3-1"}}],"mark":{"type":"line","strokeWidth":0.8,"color":"#800080","point":{"filled":true,"size":9,"opacity":1,"shape":"triangle-left","color":"#800080"}}},
{"data":{"name":"b"},"transform":[{"fold":["LMN","LMNA","LMNC","CS 1-1","CS 3-1"],"as":["s","v"]},{"filter":{"field":"x","lt":0}}],"mark":{"type":"point","filled":true,"size":49,"opacity":1},
"encoding":{
"color":{"field":"s","type":"nominal","scale":{"domain":["LMN","LMNA","LMNC","CS 1-1","CS 3-1"],"range":["#000000","#0000ff","#ff0000","#008000","#800080"]},"legend":{"title":null,"legendX":21,"legendY":94}},
"shape":{"field":"s","type":"nominal","scale":{"domain":["LMN","LMNA","LMNC","CS 1-1","CS 3-1"],"range":["M-2.6,-0.1H2.6V0.1H-2.6ZM-0.55,-0.55H0.55V0.55H-0.55Z","M-2.6,-0.1H2.6V0.1H-2.6ZM-0.55,-0.55H0.55V0.55H-0.55Z","M-2.6,-0.1H2.6V0.1H-2.6ZM0,-0.65L0.6,0.45H-0.6Z","M-2.6,-0.1H2.6V0.1H-2.6ZM0,0.65L0.6,-0.45H-0.6Z","M-2.6,-0.1H2.6V0.1H-2.6ZM-0.65,0L0.45,-0.6V0.6Z"]},"legend":{"title":null,"legendX":21,"legendY":94}}
}}
]
},
{
"width":203,"height":158,
"title":{"text":"(c)","offset":-11},
"encoding":{
"x":{"field":"x","type":"quantitative","scale":{"domain":[0,82],"nice":false},"axis":{"values":[0,5,10,15,20,25,30,35,40,45,50,55,60,65,70,75,80],"labelExpr":"datum.value % 10 == 0 ? datum.label : ''","tickSize":{"condition":{"test":"datum.value % 10 != 0","value":1.5},"value":3},"title":"Cycle number"}},
"y":{"field":"v","type":"quantitative","scale":{"domain":[0.8,1.0093],"nice":false,"zero":false},"axis":{"values":[0.8,0.81,0.82,0.83,0.84,0.85,0.86,0.87,0.88,0.89,0.9,0.91,0.92,0.93,0.94,0.95,0.96,0.97,0.98,0.99,1.0],"format":".2f","labelExpr":"round(datum.value*100) % 2 == 0 ? datum.label : ''","tickSize":{"condition":{"test":"round(datum.value*100) % 2 != 0","value":1.5},"value":3},"title":"Coulombic efficiency"}}
},
"layer":[
{"data":{"name":"c"},"transform":[{"fold":["LMN","LMNA","LMNC","CS 1-1","CS 3-1"],"as":["s","v"]}],"mark":{"type":"line","strokeWidth":0.7,"color":"#808080"},"encoding":{"detail":{"field":"s"}}},
{"data":{"name":"c"},"transform":[{"fold":["LMN","LMNA","LMNC","CS 1-1","CS 3-1"],"as":["s","v"]},{"filter":{"field":"s","equal":"LMN"}}],"mark":{"type":"point","filled":true,"size":13,"opacity":1,"shape":"square","color":"#000000"}},
{"data":{"name":"c"},"transform":[{"fold":["LMN","LMNA","LMNC","CS 1-1","CS 3-1"],"as":["s","v"]},{"filter":{"field":"s","equal":"LMNA"}}],"mark":{"type":"point","filled":true,"size":13,"opacity":1,"shape":"square","color":"#0000ff"}},
{"data":{"name":"c"},"transform":[{"fold":["LMN","LMNA","LMNC","CS 1-1","CS 3-1"],"as":["s","v"]},{"filter":{"field":"s","equal":"LMNC"}}],"mark":{"type":"point","filled":true,"size":13,"opacity":1,"shape":"triangle-up","color":"#ff0000"}},
{"data":{"name":"c"},"transform":[{"fold":["LMN","LMNA","LMNC","CS 1-1","CS 3-1"],"as":["s","v"]},{"filter":{"field":"s","equal":"CS 1-1"}}],"mark":{"type":"point","filled":true,"size":13,"opacity":1,"shape":"triangle-down","color":"#008000"}},
{"data":{"name":"c"},"transform":[{"fold":["LMN","LMNA","LMNC","CS 1-1","CS 3-1"],"as":["s","v"]},{"filter":{"field":"s","equal":"CS 3-1"}}],"mark":{"type":"point","filled":true,"size":13,"opacity":1,"shape":"triangle-left","color":"#800080"}},
{"data":{"name":"c"},"transform":[{"fold":["LMN","LMNA","LMNC","CS 1-1","CS 3-1"],"as":["s","v"]},{"filter":{"field":"x","lt":0}}],"mark":{"type":"point","filled":true,"size":49,"opacity":1},
"encoding":{
"color":{"field":"s","type":"nominal","scale":{"domain":["LMN","LMNA","LMNC","CS 1-1","CS 3-1"],"range":["#000000","#0000ff","#ff0000","#008000","#800080"]},"legend":{"title":null,"legendX":87,"legendY":79}},
"shape":{"field":"s","type":"nominal","scale":{"domain":["LMN","LMNA","LMNC","CS 1-1","CS 3-1"],"range":["M-2.6,-0.1H2.6V0.1H-2.6ZM-0.55,-0.55H0.55V0.55H-0.55Z","M-2.6,-0.1H2.6V0.1H-2.6ZM-0.55,-0.55H0.55V0.55H-0.55Z","M-2.6,-0.1H2.6V0.1H-2.6ZM0,-0.65L0.6,0.45H-0.6Z","M-2.6,-0.1H2.6V0.1H-2.6ZM0,0.65L0.6,-0.45H-0.6Z","M-2.6,-0.1H2.6V0.1H-2.6ZM-0.65,0L0.45,-0.6V0.6Z"]},"legend":{"title":null,"legendX":87,"legendY":79}}
}}
]
},
{
"width":202,"height":158,
"title":{"text":"(d)","offset":-15},
"encoding":{
"x":{"field":"x","type":"quantitative","scale":{"domain":[0,20.7],"nice":false},"axis":{"values":[0,2.5,5,7.5,10,12.5,15,17.5,20],"labelExpr":"datum.value % 5 == 0 ? datum.label : ''","tickSize":{"condition":{"test":"datum.value % 5 != 0","value":1.5},"value":3},"title":"Cycle number"}},
"y":{"field":"v","type":"quantitative","scale":{"domain":[40,105],"nice":false,"zero":false},"axis":{"values":[40,45,50,55,60,65,70,75,80,85,90,95,100],"labelExpr":"datum.value % 10 == 0 ? datum.label : ''","tickSize":{"condition":{"test":"datum.value % 10 != 0","value":1.5},"value":3},"title":"Relative discharge capacity"}}
},
"layer":[
{"data":{"name":"d"},"transform":[{"fold":["LMN","LMNA","LMNC","CS 1-1","CS 3-1"],"as":["s","v"]}],"mark":{"type":"line","strokeWidth":0.8,"color":"#808080"},"encoding":{"detail":{"field":"s"}}},
{"data":{"name":"d"},"transform":[{"fold":["LMN","LMNA","LMNC","CS 1-1","CS 3-1"],"as":["s","v"]},{"filter":{"field":"s","equal":"LMN"}}],"mark":{"type":"point","filled":true,"size":18,"opacity":1,"shape":"square","color":"#000000"}},
{"data":{"name":"d"},"transform":[{"fold":["LMN","LMNA","LMNC","CS 1-1","CS 3-1"],"as":["s","v"]},{"filter":{"field":"s","equal":"LMNA"}}],"mark":{"type":"point","filled":true,"size":18,"opacity":1,"shape":"square","color":"#0000ff"}},
{"data":{"name":"d"},"transform":[{"fold":["LMN","LMNA","LMNC","CS 1-1","CS 3-1"],"as":["s","v"]},{"filter":{"field":"s","equal":"LMNC"}}],"mark":{"type":"point","filled":true,"size":18,"opacity":1,"shape":"triangle-up","color":"#ff0000"}},
{"data":{"name":"d"},"transform":[{"fold":["LMN","LMNA","LMNC","CS 1-1","CS 3-1"],"as":["s","v"]},{"filter":{"field":"s","equal":"CS 1-1"}}],"mark":{"type":"point","filled":true,"size":18,"opacity":1,"shape":"triangle-down","color":"#008000"}},
{"data":{"name":"d"},"transform":[{"fold":["LMN","LMNA","LMNC","CS 1-1","CS 3-1"],"as":["s","v"]},{"filter":{"field":"s","equal":"CS 3-1"}}],"mark":{"type":"point","filled":true,"size":18,"opacity":1,"shape":"triangle-left","color":"#800080"}},
{"data":{"name":"d"},"transform":[{"fold":["LMN","LMNA","LMNC","CS 1-1","CS 3-1"],"as":["s","v"]},{"filter":{"field":"x","lt":0}}],"mark":{"type":"point","filled":true,"size":49,"opacity":1},
"encoding":{
"color":{"field":"s","type":"nominal","scale":{"domain":["LMN","LMNA","LMNC","CS 1-1","CS 3-1"],"range":["#000000","#0000ff","#ff0000","#008000","#800080"]},"legend":{"title":null,"legendX":15,"legendY":92,"rowPadding":2,"padding":4}},
"shape":{"field":"s","type":"nominal","scale":{"domain":["LMN","LMNA","LMNC","CS 1-1","CS 3-1"],"range":["M-2.6,-0.1H2.6V0.1H-2.6ZM-0.55,-0.55H0.55V0.55H-0.55Z","M-2.6,-0.1H2.6V0.1H-2.6ZM-0.55,-0.55H0.55V0.55H-0.55Z","M-2.6,-0.1H2.6V0.1H-2.6ZM0,-0.65L0.6,0.45H-0.6Z","M-2.6,-0.1H2.6V0.1H-2.6ZM0,0.65L0.6,-0.45H-0.6Z","M-2.6,-0.1H2.6V0.1H-2.6ZM-0.65,0L0.45,-0.6V0.6Z"]},"legend":{"title":null,"legendX":15,"legendY":92,"rowPadding":2,"padding":4}}
}},
{"data":{"name":"dlab"},"mark":{"type":"text","fontStyle":"italic","fontSize":9,"color":"#222","font":"Liberation Sans"},"encoding":{"text":{"field":"t"}}}
]
}
]
}
